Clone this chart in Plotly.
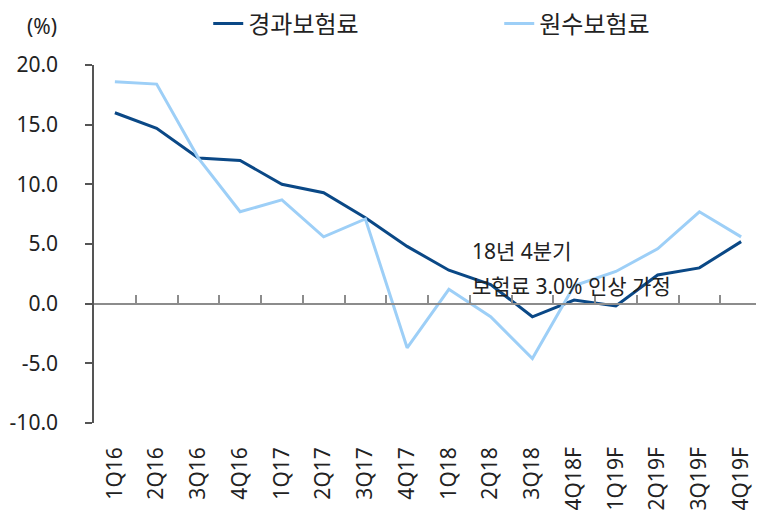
import plotly.graph_objects as go

categories = ["1Q16", "2Q16", "3Q16", "4Q16", "1Q17", "2Q17", "3Q17", "4Q17",
              "1Q18", "2Q18", "3Q18", "4Q18F", "1Q19F", "2Q19F", "3Q19F", "4Q19F"]
earned = [16.0, 14.7, 12.2, 12.0, 10.0, 9.3, 7.2, 4.8,
          2.8, 1.6, -1.1, 0.3, -0.2, 2.4, 3.0, 5.2]
direct = [18.6, 18.4, 12.2, 7.7, 8.7, 5.6, 7.1, -3.7,
          1.2, -1.1, -4.6, 1.5, 2.7, 4.6, 7.7, 5.6]
y_ticks = [20, 15, 10, 5, 0, -5, -10]
y_tick_text = ["20.0", "15.0", "10.0", "5.0", "0.0", "-5.0", "-10.0"]
series_names = ["경과보험료", "원수보험료"]
note_lines = ["18년 4분기", "보험료 3.0% 인상 가정"]

DARK = "#0A4886"
LIGHT = "#9DCFF7"
FONT = "Noto Sans, Noto Sans CJK KR, sans-serif"
n = len(categories)
idx = list(range(n))

fig = go.Figure()
fig.add_trace(go.Scatter(x=idx, y=earned, mode="lines", name=series_names[0],
                         line=dict(color=DARK, width=3)))
fig.add_trace(go.Scatter(x=idx, y=direct, mode="lines", name=series_names[1],
                         line=dict(color=LIGHT, width=3)))
# helper trace for zero-line axis with boundary ticks
fig.add_trace(go.Scatter(x=idx, y=[0] * n, xaxis="x2", mode="lines",
                         line=dict(width=0), showlegend=False, hoverinfo="skip"))

fig.update_layout(
    width=756, height=504,
    margin=dict(l=86, r=2, t=57, b=89, autoexpand=False),
    paper_bgcolor="white", plot_bgcolor="white",
    font=dict(family=FONT, size=21, color="#222222"),
    showlegend=True,
    legend=dict(orientation="h", x=0.171, y=1 - 16 / 504, xanchor="left",
                yanchor="middle", yref="container",
                font=dict(size=24, color="#222222"),
                entrywidth=246, entrywidthmode="pixels",
                bgcolor="rgba(0,0,0,0)", traceorder="normal"),
    xaxis=dict(
        range=[-0.5, n - 0.5], tickmode="array", tickvals=idx, ticktext=categories,
        tickangle=-90, showline=False, showgrid=False, zeroline=False, ticks="",
        ticklabelstandoff=19, tickfont=dict(size=21, color="#222222"),
        automargin=False,
    ),
    xaxis2=dict(
        overlaying="x", anchor="free", position=1 / 3, range=[-0.5, n - 0.5],
        tickmode="array", tickvals=[i - 0.5 for i in range(n + 1)],
        showticklabels=False, ticks="inside", ticklen=8, tickwidth=2,
        tickcolor="#8C8C8C", showline=True, linecolor="#8C8C8C", linewidth=2,
        showgrid=False, zeroline=False, automargin=False,
    ),
    yaxis=dict(
        range=[-10, 20], tickmode="array", tickvals=y_ticks, ticktext=y_tick_text,
        showline=True, linecolor="#555555", linewidth=1.5,
        ticks="outside", ticklen=7, tickcolor="#555555", tickwidth=1.5,
        showgrid=False, zeroline=False, ticklabelstandoff=23,
        tickfont=dict(size=21, color="#222222"), automargin=False,
    ),
)

fig.add_annotation(text="(%)", xref="paper", yref="paper", x=-0.078, y=1.11,
                   xanchor="center", yanchor="middle", showarrow=False,
                   font=dict(size=21, color="#222222"))
fig.add_annotation(text=note_lines[0], xref="x", yref="y", x=8.5, y=4.4,
                   xanchor="left", yanchor="middle", showarrow=False,
                   font=dict(size=21, color="#222222"))
fig.add_annotation(text=note_lines[1], xref="x", yref="y", x=8.5, y=1.5,
                   xanchor="left", yanchor="middle", showarrow=False,
                   font=dict(size=21, color="#222222"))

fig.write_html("out.html")
